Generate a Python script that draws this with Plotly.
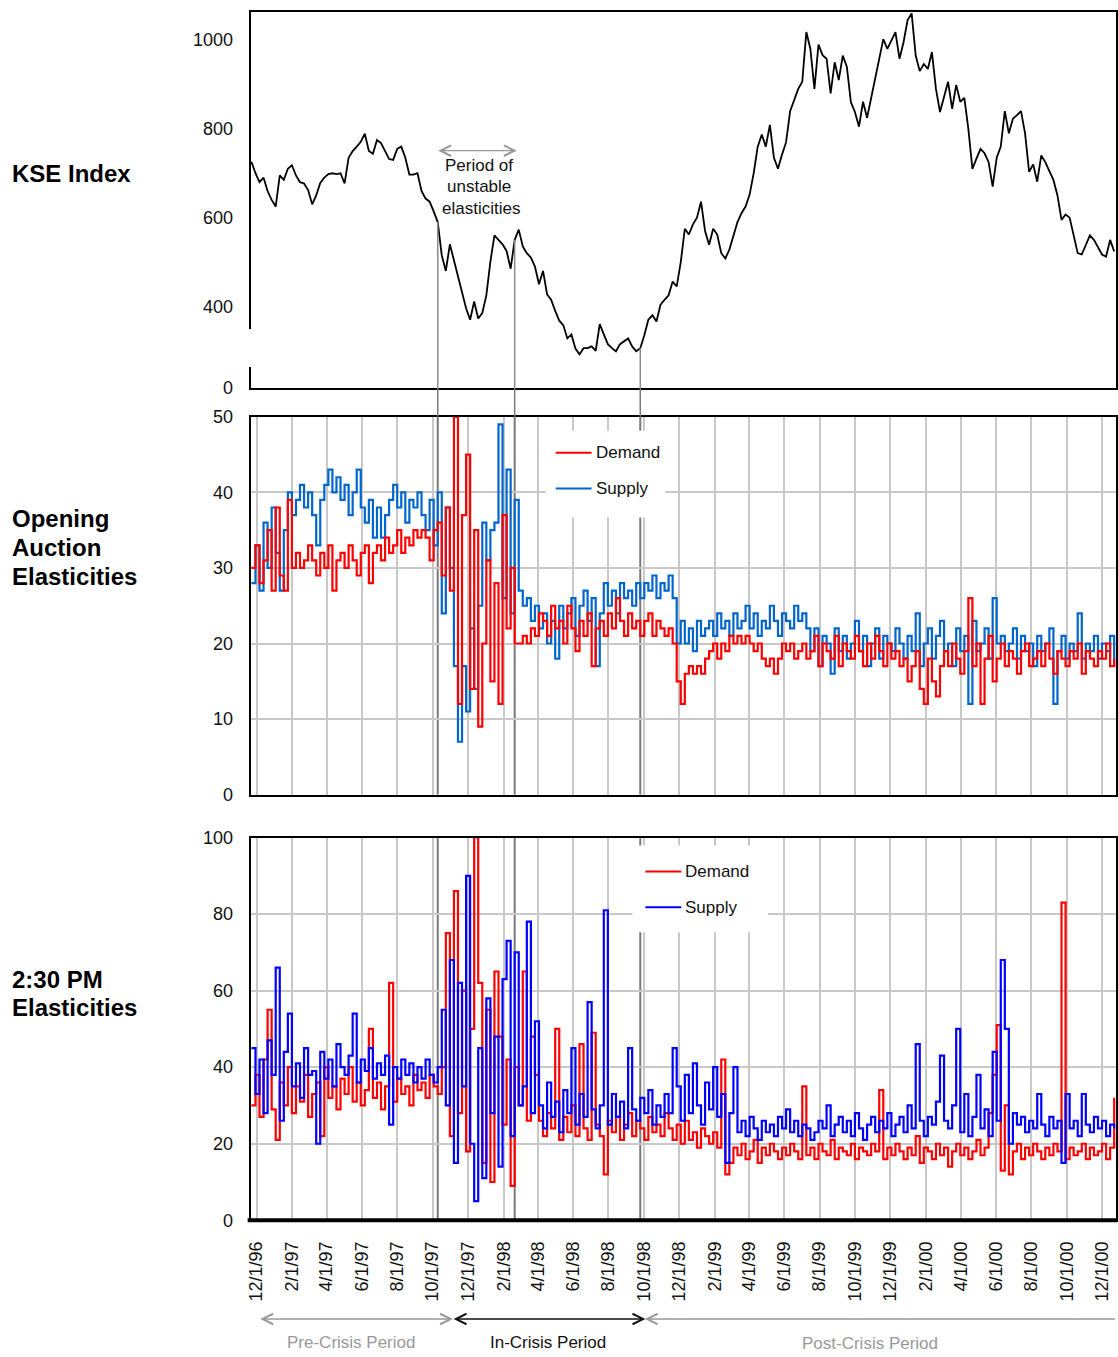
import pandas as pd
import plotly.graph_objects as go

# ---------------- data (weekly readings, starting 1996-11-22) ----------------
kse_index = [
    726, 700, 680, 690, 660, 640, 625, 695, 685, 710,
    718, 695, 680, 677, 662, 630, 650, 678, 690, 698,
    700, 698, 700, 677, 735, 750, 760, 771, 789, 750,
    744, 775, 768, 750, 732, 730, 755, 760, 735, 697,
    697, 700, 660, 643, 636, 614, 590, 515, 480, 540,
    505, 470, 435, 396, 370, 411, 373, 385, 425, 501,
    560, 550, 540, 525, 485, 550, 573, 535, 520, 510,
    490, 450, 480, 427, 415, 390, 368, 358, 328, 337,
    305, 292, 306, 306, 310, 300, 360, 337, 315, 306,
    299, 315, 322, 328, 310, 299, 306, 335, 370, 380,
    366, 404, 415, 425, 456, 445, 500, 575, 562, 585,
    600, 636, 570, 539, 575, 562, 520, 508, 528, 560,
    590, 610, 625, 652, 700, 760, 787, 760, 809, 735,
    710, 742, 770, 840, 865, 890, 906, 1018, 980, 890,
    990, 966, 958, 880, 950, 910, 965, 940, 860, 838,
    805, 861, 825, 870, 920, 965, 1002, 980, 1000, 1018,
    958, 995, 1045, 1060, 965, 930, 946, 935, 973, 890,
    838, 875, 906, 845, 899, 861, 870, 800, 710, 733,
    755, 745, 725, 670, 735, 760, 840, 790, 823, 831,
    840, 790, 703, 720, 681, 740, 725, 705, 685, 650,
    595, 607, 600, 560, 520, 517, 539, 560, 550, 535,
    517, 512, 550, 524,
]

open_demand = [
    30, 33, 28, 31, 35, 27, 38, 29, 27, 39,
    30, 32, 30, 31, 33, 31, 29, 32, 30, 33,
    27, 31, 32, 30, 33, 31, 29, 32, 33, 28,
    32, 33, 31, 34, 32, 33, 35, 32, 34, 33,
    35, 34, 35, 34, 31, 35, 36, 29, 38, 27,
    50, 12, 37, 45, 14, 35, 9, 20, 31, 15,
    28, 12, 37, 22, 30, 20, 20, 21, 20, 22,
    21, 24, 23, 21, 25, 22, 23, 20, 25, 22,
    19, 23, 21, 24, 17, 22, 23, 21, 24, 22,
    26, 23, 21, 24, 22, 23, 21, 23, 24, 21,
    23, 22, 21, 22, 20, 15, 12, 16, 17, 16,
    17, 16, 18, 19, 20, 18, 20, 19, 21, 20,
    21, 20, 21, 20, 19, 20, 18, 17, 18, 16,
    18, 20, 19, 20, 18, 19, 20, 18, 19, 21,
    17, 20, 19, 18, 21, 17, 20, 19, 18, 21,
    19, 17, 20, 18, 21, 19, 17, 20, 18, 19,
    17, 18, 15, 17, 19, 14, 12, 18, 15, 13,
    17, 19, 17, 20, 18, 16, 19, 26, 17, 20,
    12, 18, 21, 15, 18, 20, 17, 19, 18, 16,
    19, 20, 17, 18, 19, 17, 20, 18, 16, 19,
    18, 17, 19, 18, 20, 16, 19, 18, 17, 19,
    18, 20, 17, 18,
]

open_supply = [
    28, 33, 27, 36, 30, 38, 32, 27, 35, 40,
    37, 39, 41, 38, 40, 37, 33, 39, 41, 43,
    40, 42, 39, 41, 37, 40, 43, 38, 36, 39,
    34, 38, 34, 37, 39, 41, 38, 40, 36, 39,
    38, 40, 37, 35, 39, 33, 40, 24, 38, 30,
    17, 7, 17, 11, 22, 14, 25, 36, 31, 35,
    36, 49, 26, 43, 24, 39, 27, 25, 26, 23,
    25, 22, 24, 20, 23, 18, 25, 22, 24, 26,
    21, 25, 27, 23, 26, 17, 24, 28, 25, 27,
    24, 28, 26, 27, 25, 28, 26, 28, 27, 29,
    26, 28, 27, 29, 26, 20, 23, 20, 22, 19,
    23, 21, 22, 23, 21, 24, 22, 23, 21, 24,
    22, 23, 25, 22, 24, 21, 23, 22, 25, 23,
    21, 24, 23, 22, 25, 23, 24, 22, 19, 22,
    17, 21, 20, 16, 22, 19, 21, 18, 20, 23,
    19, 21, 17, 20, 22, 18, 21, 20, 19, 22,
    20, 18, 21, 19, 24, 17, 20, 22, 18, 21,
    23, 19, 20, 17, 22, 19, 21, 12, 23, 19,
    20, 22, 18, 26, 20, 21, 19, 20, 22, 18,
    21, 19, 20, 17, 21, 19, 20, 22, 12, 19,
    21, 18, 20, 19, 24, 18, 20, 19, 21, 18,
    20, 19, 21, 17,
]

pm_demand = [
    30, 38, 27, 42, 55, 29, 21, 36, 30, 40,
    28, 35, 31, 38, 27, 33, 36, 22, 40, 32,
    35, 29, 37, 33, 40, 31, 36, 30, 34, 50,
    32, 36, 29, 35, 62, 31, 37, 33, 35, 30,
    38, 34, 36, 32, 38, 35, 33, 40, 75, 22,
    86, 28, 60, 18, 50, 100, 62, 15, 55, 10,
    65, 48, 25, 42, 9, 40, 30, 65, 26, 48,
    38, 26, 22, 28, 24, 50, 21, 27, 23, 30,
    22, 46, 24, 21, 49, 25, 22, 12, 26, 23,
    27, 21, 25, 28, 22, 26, 24, 21, 27, 23,
    25, 22, 28, 24, 21, 25, 20, 26, 21, 23,
    19, 24, 22, 20, 23, 19, 42, 12, 15, 19,
    17, 20, 16, 18, 21, 15, 19, 17, 20, 18,
    16, 19, 17, 20, 18, 16, 35, 17, 19, 16,
    20, 18, 17, 21, 16, 19, 18, 17, 20, 16,
    19, 18, 17, 20, 18, 34, 16, 19, 17, 20,
    18, 16, 19, 17, 22, 15, 19, 18, 16, 20,
    17, 19, 14, 18, 20, 17, 19, 16, 18, 21,
    17, 19, 28, 38, 51, 13, 30, 12, 18, 20,
    16, 19, 17, 20, 18, 16, 19, 17, 20, 18,
    83, 16, 19, 17, 18, 20, 16, 19, 17, 18,
    20, 16, 19, 32,
]

pm_supply = [
    45, 33, 42, 28, 47, 38, 66, 26, 44, 54,
    35, 41, 32, 45, 38, 39, 20, 44, 37, 42,
    35, 46, 40, 38, 43, 54, 36, 42, 39, 45,
    37, 41, 38, 43, 25, 40, 37, 42, 38, 41,
    36, 40, 37, 42, 38, 36, 40, 55, 30, 68,
    15, 62, 35, 90, 20, 5, 45, 11, 58, 28,
    48, 14, 63, 73, 22, 70, 30, 35, 78, 28,
    52, 30, 24, 36, 27, 31, 23, 34, 28, 45,
    25, 33, 27, 57, 29, 24, 30, 81, 25, 33,
    27, 31, 24, 45, 29, 26, 32, 28, 34, 25,
    30, 27, 33, 28, 45, 35, 26, 38, 28, 41,
    30, 25, 36, 29, 40, 27, 33, 15, 28, 40,
    23, 26, 22, 27, 24, 21, 26, 23, 25, 22,
    27, 24, 29, 23, 26, 22, 25, 24, 21, 23,
    26, 24, 30, 22, 25, 27, 23, 26, 22, 28,
    24, 21, 25, 27, 23, 26, 24, 28, 22, 25,
    27, 23, 30, 24, 46, 26, 22, 27, 25, 31,
    43, 26, 24, 30, 50, 23, 33, 22, 27, 38,
    24, 29, 22, 44, 26, 68, 50, 20, 28, 25,
    27, 23, 26, 24, 33, 25, 22, 27, 24, 26,
    15, 33, 24, 26, 22, 33, 25, 23, 27, 24,
    26, 22, 25, 24,
]

tick_labels = [
    "12/1/96", "2/1/97", "4/1/97", "6/1/97", "8/1/97", "10/1/97",
    "12/1/97", "2/1/98", "4/1/98", "6/1/98", "8/1/98", "10/1/98",
    "12/1/98", "2/1/99", "4/1/99", "6/1/99", "8/1/99", "10/1/99",
    "12/1/99", "2/1/00", "4/1/00", "6/1/00", "8/1/00", "10/1/00",
    "12/1/00",
]
kse_tick_values = [216.5, 400, 600, 800, 1000]
kse_tick_labels = ["0", "400", "600", "800", "1000"]
crisis_weeks = [46, 65, 96]   # crisis start, end of unstable period, end of crisis

# ---------------- page geometry ----------------
# Positions are given in window pixels and mapped to figure pixels to
# compensate for the page margin / capture scaling of the viewer.
FW, FH = 1118, 1357
SX, SY = 1.00135, 1373 / 1357
OFFX, OFFY = 1.6, 8
def fx(x):
    return x * SX - OFFX
def fy(y):
    return y * SY - OFFY
def px(x):
    return fx(x) / FW
def py(y):
    return 1 - fy(y) / FH

def weeks(n):
    return pd.date_range("1996-11-22", periods=n, freq="7D")

tick_dates = pd.date_range("1996-12-01", periods=len(tick_labels), freq="2MS")
x_range = ["1996-11-20 16:00", "2000-12-25"]
kse_dates = weeks(len(kse_index))

FONT = "Liberation Sans"
RED = "#FF0000"
BLUE_MID = "#0066CC"
BLUE_BOT = "#0000FF"
GRID = "#C8C8C8"

fig = go.Figure()
fig.add_trace(go.Scatter(x=kse_dates, y=kse_index, mode="lines",
                         line=dict(color="black", width=1.8), xaxis="x", yaxis="y"))
step = dict(width=2.2, shape="hv")
fig.add_trace(go.Scatter(x=weeks(len(open_supply)), y=open_supply, mode="lines",
                         line=dict(color=BLUE_MID, **step), xaxis="x2", yaxis="y2"))
fig.add_trace(go.Scatter(x=weeks(len(open_demand)), y=open_demand, mode="lines",
                         line=dict(color=RED, **step), xaxis="x2", yaxis="y2"))
fig.add_trace(go.Scatter(x=weeks(len(pm_demand)), y=pm_demand, mode="lines",
                         line=dict(color=RED, **step), xaxis="x3", yaxis="y3"))
fig.add_trace(go.Scatter(x=weeks(len(pm_supply)), y=pm_supply, mode="lines",
                         line=dict(color=BLUE_BOT, **step), xaxis="x3", yaxis="y3"))

xdom = [px(249), min(1.0, px(1117))]
common_x = dict(domain=xdom, range=x_range, type="date", showline=True, mirror=True,
                linecolor="black", linewidth=2, zeroline=False)
common_y = dict(showline=True, mirror=True, linecolor="black", linewidth=2,
                zeroline=False, ticks="outside", ticklen=12, tickcolor="rgba(0,0,0,0)",
                tickfont=dict(family=FONT, size=18, color="#111"))

fig.update_layout(
    width=FW, height=FH, margin=dict(l=0, r=0, t=0, b=0),
    paper_bgcolor="white", plot_bgcolor="white", showlegend=False,
    xaxis=dict(**common_x, anchor="y", showgrid=False, showticklabels=False, ticks=""),
    xaxis2=dict(**common_x, anchor="y2", showgrid=True, gridcolor=GRID, gridwidth=2,
                tickvals=tick_dates, showticklabels=False, ticks=""),
    xaxis3=dict(**common_x, anchor="y3", showgrid=True, gridcolor=GRID, gridwidth=2,
                tickvals=tick_dates, ticktext=tick_labels, tickangle=-90,
                ticks="outside", ticklen=12, tickcolor="rgba(0,0,0,0)",
                tickfont=dict(family=FONT, size=18, color="#111")),
    yaxis=dict(**common_y, domain=[py(387), py(10)], range=[216.5, 1063],
               tickvals=kse_tick_values, ticktext=kse_tick_labels, showgrid=False,
               anchor="x"),
    yaxis2=dict(**common_y, domain=[py(795), py(416)], range=[0, 50], dtick=10,
                showgrid=True, gridcolor=GRID, gridwidth=2, anchor="x2"),
    yaxis3=dict(**common_y, domain=[py(1222), py(838)], range=[0, 100], dtick=20,
                showgrid=True, gridcolor=GRID, gridwidth=2, anchor="x3"),
)

shapes = []
DARK = "#7A7A7A"
for w in crisis_weeks:
    d = kse_dates[w]
    shapes.append(dict(type="line", xref="x", yref="y", x0=d, x1=d,
                       y0=kse_index[w], y1=216.5, line=dict(color="#8A8A8A", width=1.5)))
    shapes.append(dict(type="line", xref="x", yref="paper", x0=d, x1=d,
                       y0=py(416), y1=py(387), line=dict(color=DARK, width=1.5)))
    shapes.append(dict(type="line", xref="x2", yref="y2", x0=d, x1=d, y0=0, y1=50,
                       layer="below", line=dict(color=DARK, width=2)))
    shapes.append(dict(type="line", xref="x3", yref="y3", x0=d, x1=d, y0=0, y1=100,
                       layer="below", line=dict(color=DARK, width=2)))

shapes.append(dict(type="rect", xref="paper", yref="paper", x0=px(545), x1=px(665),
                   y0=py(517), y1=py(430), fillcolor="white", line=dict(width=0),
                   layer="above"))
shapes.append(dict(type="rect", xref="paper", yref="paper", x0=px(632), x1=px(768),
                   y0=py(933), y1=py(846), fillcolor="white", line=dict(width=0),
                   layer="above"))
shapes.append(dict(type="rect", xref="paper", yref="paper", x0=px(243), x1=px(255),
                   y0=py(366), y1=py(328), fillcolor="white", line=dict(width=0),
                   layer="above"))
shapes.append(dict(type="line", xref="paper", yref="paper", x0=px(246), x1=1,
                   y0=py(1222), y1=py(1222), line=dict(color="black", width=4)))

for (x0, y, col) in [(555, 452, RED), (555, 488, BLUE_MID), (645, 872, RED), (645, 908, BLUE_BOT)]:
    shapes.append(dict(type="line", xref="paper", yref="paper", x0=px(x0), x1=px(x0 + 36),
                       y0=py(y), y1=py(y), line=dict(color=col, width=2)))

fig.update_layout(shapes=shapes)

ann = []
def text(x, y, s, size=17, color="#111", bold=False, anchor="center"):
    ann.append(dict(xref="paper", yref="paper", x=px(x), y=py(y), text=s, showarrow=False,
                    xanchor=anchor, yanchor="middle",
                    font=dict(family=FONT, size=size, color=color,
                              weight="bold" if bold else "normal")))

text(8, 172, "KSE Index", size=24, color="black", bold=True, anchor="left")
text(8, 518, "Opening", size=24, color="black", bold=True, anchor="left")
text(8, 547, "Auction", size=24, color="black", bold=True, anchor="left")
text(8, 576, "Elasticities", size=24, color="black", bold=True, anchor="left")
text(8, 980, "2:30 PM", size=24, color="black", bold=True, anchor="left")
text(8, 1009, "Elasticities", size=24, color="black", bold=True, anchor="left")

text(593, 452, "Demand", anchor="left")
text(593, 488, "Supply", anchor="left")
text(683, 872, "Demand", anchor="left")
text(683, 908, "Supply", anchor="left")

text(478, 164, "Period of")
text(478, 185, "unstable")
text(480, 207, "elasticities")

text(350, 1345, "Pre-Crisis Period", color="#999999")
text(547, 1345, "In-Crisis Period", color="#111111")
text(870, 1346, "Post-Crisis Period", color="#999999")

def arrow(x_head, x_tail, y, color, side):
    ann.append(dict(xref="paper", yref="paper", x=px(x_head), y=py(y),
                    ax=fx(x_tail) - fx(x_head), ay=0, axref="pixel", ayref="pixel",
                    text="", showarrow=True, arrowside=side, arrowhead=5,
                    startarrowhead=5, arrowsize=1.6, startarrowsize=1.6,
                    arrowwidth=1.3, arrowcolor=color))

arrow(516, 436, 149, "#999999", "end+start")
arrow(452, 258, 1321, "#999999", "end+start")
arrow(645, 452, 1321, "#111111", "end+start")
arrow(1116, 645, 1321, "#999999", "start")

fig.update_layout(annotations=ann)
fig.write_html("out.html")
